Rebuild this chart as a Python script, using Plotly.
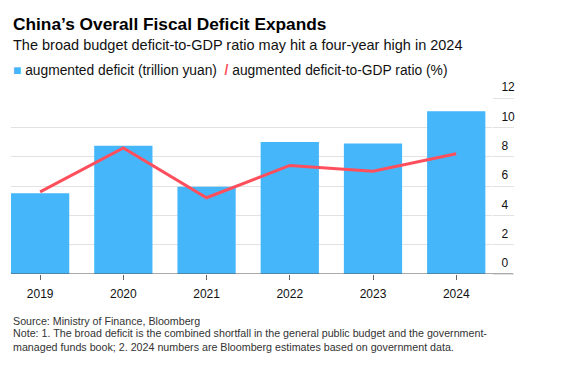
import plotly.graph_objects as go

years = ["2019", "2020", "2021", "2022", "2023", "2024"]
deficit = [5.5, 8.75, 5.95, 9.0, 8.9, 11.1]
ratio = [5.6, 8.6, 5.2, 7.4, 7.0, 8.2]
y_ticks = [0, 2, 4, 6, 8, 10, 12]

BLUE = "#45b6f9"
RED = "#ff4f5c"
FONT = "Liberation Sans, Arial, sans-serif"

fig = go.Figure()
fig.add_trace(go.Bar(x=years, y=deficit, marker=dict(color=BLUE, line=dict(width=0)),
                     name="augmented deficit (trillion yuan)", width=0.7))
fig.add_trace(go.Scatter(x=years, y=ratio, mode="lines", line=dict(color=RED, width=3),
                         name="augmented deficit-to-GDP ratio (%)"))

H = 176.0
def py(px):
    return (274.0 - px) / H

ann = []
ann.append(dict(text="<b>China’s Overall Fiscal Deficit Expands</b>", x=0, y=py(23.5),
                font=dict(size=17.3, color="#000")))
ann.append(dict(text="The broad budget deficit-to-GDP ratio may hit a four-year high in 2024", x=0, y=py(45.5),
                font=dict(size=14.5, color="#111")))
ann.append(dict(text=f"<span style='color:{BLUE}'>■</span> augmented deficit (trillion yuan)  "
                     f"<span style='color:{RED}'><b>/</b></span> augmented deficit-to-GDP ratio (%)",
                x=0, y=py(70.5), font=dict(size=13.8, color="#111")))
ann.append(dict(text="Source: Ministry of Finance, Bloomberg", x=0, y=py(321.0),
                font=dict(size=10.7, color="#333")))
ann.append(dict(text="Note: 1. The broad deficit is the combined shortfall in the general public budget and the government-",
                x=0, y=py(333.0), font=dict(size=10.7, color="#333")))
ann.append(dict(text="managed funds book; 2. 2024 numbers are Bloomberg estimates based on government data.",
                x=0, y=py(347.0), font=dict(size=10.7, color="#333")))
for a in ann:
    a.update(xref="paper", yref="paper", xanchor="left", yanchor="middle", showarrow=False,
             font=dict(family=FONT, **a["font"]))

fig.update_layout(
    width=567, height=361,
    margin=dict(l=3, r=83, t=90, b=95),
    paper_bgcolor="white", plot_bgcolor="white",
    font=dict(family=FONT, size=12, color="#111"),
    showlegend=False,
    annotations=ann,
    bargap=0.3,
    xaxis=dict(type="category", range=[-0.35, 5.43], showgrid=False, showline=False,
               ticks="outside", ticklen=5, tickcolor="#666", tickwidth=1,
               ticklabelstandoff=4,
               tickfont=dict(size=12, color="#111"), zeroline=False),
    yaxis=dict(side="right", range=[0, 12], tickvals=y_ticks, showgrid=True,
               gridcolor="#e2e2e2", gridwidth=1, zeroline=False, showline=False,
               ticks="outside", ticklen=21, tickcolor="#e2e2e2",
               ticklabelposition="outside top", ticklabelstandoff=6, ticklabelshift=-2,
               tickfont=dict(size=12, color="#111")),
    shapes=[dict(type="line", xref="paper", yref="y", x0=0, x1=1.044, y0=0, y1=0,
                 line=dict(color="#555", width=1), layer="above")],
)

fig.write_html("out.html")
